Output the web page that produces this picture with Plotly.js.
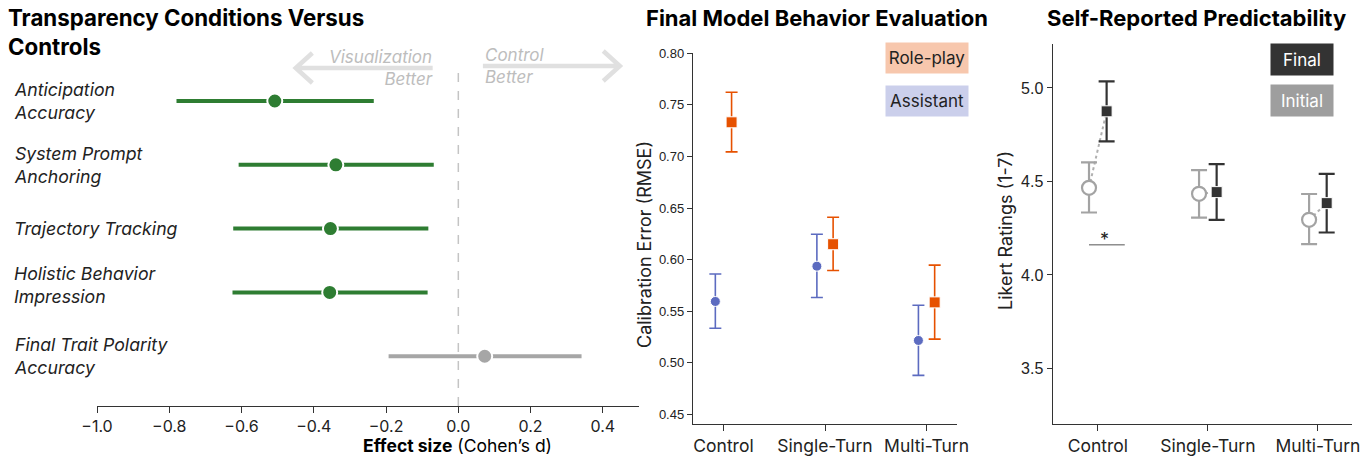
<!DOCTYPE html>
<html><head><meta charset="utf-8">
<script src="https://cdn.plot.ly/plotly-3.0.1.min.js"></script>
<style>html,body{margin:0;padding:0;background:#fff}</style>
</head><body><div id="chart" style="width:1366px;height:456px"></div>
<script>
// ---------- Panel 1: effect sizes ----------
const measures = ["Final Trait Polarity<br>Accuracy", "Holistic Behavior<br>Impression", "Trajectory Tracking", "System Prompt<br>Anchoring", "Anticipation<br>Accuracy"];
const effectD = [0.073, -0.356, -0.354, -0.339, -0.508];
const effectLo = [-0.193, -0.625, -0.623, -0.608, -0.780];
const effectHi = [0.341, -0.085, -0.083, -0.068, -0.234];
const effectSig = [false, true, true, true, true];

// ---------- Panel 2: calibration error ----------
const conditions = ["Control", "Single-Turn", "Multi-Turn"];
const assistantRMSE = [0.5594, 0.5936, 0.5216];
const assistantLo = [0.5335, 0.5633, 0.4877];
const assistantHi = [0.5861, 0.6246, 0.5558];
const roleplayRMSE = [0.7331, 0.6149, 0.5585];
const roleplayLo = [0.7044, 0.5894, 0.5229];
const roleplayHi = [0.7622, 0.6411, 0.5946];

// ---------- Panel 3: Likert ratings ----------
const initialRating = [4.466, 4.434, 4.295];
const initialLo = [4.334, 4.307, 4.165];
const initialHi = [4.602, 4.561, 4.433];
const finalRating = [4.875, 4.443, 4.384];
const finalLo = [4.714, 4.295, 4.227];
const finalHi = [5.035, 4.593, 4.541];

const GREEN = "#2e7d32", GREY = "#a6a6a6", ORANGE = "#e65100", BLUE = "#5c6bc0", DARK = "#333333", LIGHT = "#a3a3a3";
const FONT = "Inter, 'Liberation Sans', sans-serif";
const plus = (v, hi) => v.map((d, i) => hi[i] - d);
const minus = (v, lo) => v.map((d, i) => d - lo[i]);
const idx = conditions.map((_, i) => i);
const OFF = 0.08;

const traces = [];
// panel 1
const rowIdx = measures.map((_, i) => i);
[true, false].forEach(sig => {
  const sel = rowIdx.filter(i => effectSig[i] === sig);
  const col = sig ? GREEN : GREY;
  traces.push({
    type: "scatter", mode: "markers", xaxis: "x", yaxis: "y",
    x: sel.map(i => effectD[i]), y: sel,
    error_x: {type: "data", symmetric: false, array: sel.map(i => effectHi[i] - effectD[i]),
              arrayminus: sel.map(i => effectD[i] - effectLo[i]), color: col, thickness: 4, width: 0},
    marker: {color: col, size: 15, line: {color: "#fff", width: 2}},
    hoverinfo: "skip", showlegend: false
  });
});
// panel 2
traces.push({
  type: "scatter", mode: "markers", xaxis: "x2", yaxis: "y2",
  x: idx.map(i => i - OFF), y: assistantRMSE,
  error_y: {type: "data", symmetric: false, array: plus(assistantRMSE, assistantHi), arrayminus: minus(assistantRMSE, assistantLo), color: BLUE, thickness: 1.6, width: 6},
  marker: {color: BLUE, size: 10, symbol: "circle", line: {color: "#fff", width: 1}},
  name: "Assistant", showlegend: false
});
traces.push({
  type: "scatter", mode: "markers", xaxis: "x2", yaxis: "y2",
  x: idx.map(i => i + OFF), y: roleplayRMSE,
  error_y: {type: "data", symmetric: false, array: plus(roleplayRMSE, roleplayHi), arrayminus: minus(roleplayRMSE, roleplayLo), color: ORANGE, thickness: 1.6, width: 6},
  marker: {color: ORANGE, size: 11, symbol: "square", line: {color: "#fff", width: 1}},
  name: "Role-play", showlegend: false
});
// panel 3 connectors
idx.forEach(i => {
  traces.push({
    type: "scatter", mode: "lines", xaxis: "x3", yaxis: "y3",
    x: [i - OFF, i + OFF], y: [initialRating[i], finalRating[i]],
    line: {color: "#b0b0b0", width: 2, dash: "dot"}, hoverinfo: "skip", showlegend: false
  });
});
traces.push({
  type: "scatter", mode: "markers", xaxis: "x3", yaxis: "y3",
  x: idx.map(i => i - OFF), y: initialRating,
  error_y: {type: "data", symmetric: false, array: plus(initialRating, initialHi), arrayminus: minus(initialRating, initialLo), color: LIGHT, thickness: 2.2, width: 8},
  marker: {color: "#fff", size: 14, symbol: "circle", line: {color: LIGHT, width: 2.2}},
  name: "Initial", showlegend: false
});
traces.push({
  type: "scatter", mode: "markers", xaxis: "x3", yaxis: "y3",
  x: idx.map(i => i + OFF), y: finalRating,
  error_y: {type: "data", symmetric: false, array: plus(finalRating, finalHi), arrayminus: minus(finalRating, finalLo), color: DARK, thickness: 2.2, width: 8},
  marker: {color: DARK, size: 11, symbol: "square", line: {color: "#fff", width: 1}},
  name: "Final", showlegend: false
});

const H = 456, W = 1366;
const py = p => 1 - p / H, px = p => p / W;

const annotations = [];
// titles
annotations.push({xref: "paper", yref: "paper", x: px(6), y: py(2), xanchor: "left", yanchor: "top", align: "left", showarrow: false,
  text: "<b>Transparency Conditions Versus<br>Controls</b>", font: {family: FONT, size: 22.3, color: "#000"}});
annotations.push({xref: "paper", yref: "paper", x: px(817), y: py(18), xanchor: "center", yanchor: "middle", showarrow: false,
  text: "<b>Final Model Behavior Evaluation</b>", font: {family: FONT, size: 22, color: "#000"}});
annotations.push({xref: "paper", yref: "paper", x: px(1196), y: py(18), xanchor: "center", yanchor: "middle", showarrow: false,
  text: "<b>Self-Reported Predictability</b>", font: {family: FONT, size: 22, color: "#000"}});
// panel 1 row labels
measures.forEach((m, i) => annotations.push({xref: "paper", yref: "y", x: px(12), y: i, yshift: i === 1 ? 7 : 0, xanchor: "left", yanchor: "middle", align: "left",
  showarrow: false, text: "<i>" + m + "</i>", font: {family: FONT, size: 17.7, color: "#222"}}));
// arrow texts
annotations.push({xref: "paper", yref: "paper", x: px(435), y: py(68), xanchor: "right", yanchor: "middle", align: "right", showarrow: false,
  text: "<i>Visualization<br>Better</i>", font: {family: FONT, size: 17, color: "#bdbdbd"}});
annotations.push({xref: "paper", yref: "paper", x: px(483), y: py(66), xanchor: "left", yanchor: "middle", align: "left", showarrow: false,
  text: "<i>Control<br>Better</i>", font: {family: FONT, size: 17, color: "#bdbdbd"}});
// panel 1 x title
annotations.push({xref: "paper", yref: "paper", x: px(457), y: py(445), xanchor: "center", yanchor: "middle", showarrow: false,
  text: "<b>Effect size</b> (Cohen\u2019s d)", font: {family: FONT, size: 17.5, color: "#000"}});
// y titles
annotations.push({xref: "paper", yref: "paper", x: px(645), y: py(245), xanchor: "center", yanchor: "middle", textangle: -90, showarrow: false,
  text: "Calibration Error (RMSE)", font: {family: FONT, size: 18, color: "#222"}});
annotations.push({xref: "paper", yref: "paper", x: px(1006), y: py(231), xanchor: "center", yanchor: "middle", textangle: -90, showarrow: false,
  text: "Likert Ratings (1-7)", font: {family: FONT, size: 18, color: "#222"}});
// legends
const legBox = (label, cx, cy, w, h, bg, fc) => annotations.push({xref: "paper", yref: "paper", x: px(cx), y: py(cy), xanchor: "center", yanchor: "middle",
  showarrow: false, text: label, width: w, height: h, bgcolor: bg, font: {family: FONT, size: 17, color: fc}, borderpad: 0});
legBox("Role-play", 927, 58, 82, 30, "rgba(230,81,0,0.32)", "#222");
legBox("Assistant", 927, 101, 82, 30, "rgba(92,107,192,0.32)", "#222");
legBox("Final", 1301.5, 59.5, 62, 31, DARK, "#fff");
legBox("Initial", 1301.5, 100.5, 62, 31, "#9e9e9e", "#fff");
// significance star
annotations.push({xref: "x3", yref: "y3", x: 0.06, y: 4.19, xanchor: "center", yanchor: "middle", showarrow: false,
  text: "*", font: {family: FONT, size: 18, color: "#222"}});

const arrowC = "#e0e0e0";
const shapes = [
  {type: "line", xref: "x", yref: "y domain", x0: 0, x1: 0, y0: 0, y1: 1, line: {color: "#c4c4c4", width: 1.5, dash: "dash"}, layer: "below"},
  {type: "path", xref: "x", yref: "paper", path: `M -0.071,${py(68)} L -0.448,${py(68)} M -0.404,${py(53)} L -0.450,${py(68)} L -0.404,${py(83)}`, line: {color: arrowC, width: 4.5}},
  {type: "path", xref: "x", yref: "paper", path: `M 0.068,${py(66)} L 0.445,${py(66)} M 0.401,${py(51)} L 0.447,${py(66)} L 0.401,${py(81)}`, line: {color: arrowC, width: 4.5}},
  {type: "line", xref: "x3", yref: "y3", x0: -0.08, x1: 0.245, y0: 4.161, y1: 4.161, line: {color: "#555", width: 1}}
];

const tickNum = {family: "'Liberation Sans', Arial, sans-serif", color: "#222"};
const layout = {
  width: W, height: H, margin: {l: 0, r: 0, t: 0, b: 0}, paper_bgcolor: "#fff", plot_bgcolor: "rgba(0,0,0,0)",
  showlegend: false,
  xaxis: {domain: [px(97), px(639)], range: [-1, 0.5], tick0: -1, dtick: 0.2, tickformat: ".1f",
    showline: true, linecolor: "#333", linewidth: 1.2, ticks: "outside", ticklen: 6, tickcolor: "#333",
    showgrid: false, zeroline: false, tickfont: {family: FONT, size: 16, color: "#222"}, anchor: "y"},
  yaxis: {domain: [py(406), py(70.7)], range: [-0.78, 4.475], visible: false, anchor: "x"},
  xaxis2: {domain: [px(693), px(957)], range: [-0.3, 2.3], tickvals: idx, ticktext: conditions,
    showline: true, linecolor: "#333", linewidth: 1.2, ticks: "outside", ticklen: 6, tickcolor: "#333",
    showgrid: false, zeroline: false, tickfont: {family: FONT, size: 17.5, color: "#222"}, anchor: "y2"},
  yaxis2: {domain: [py(424), py(53.3)], range: [0.4406, 0.80], dtick: 0.05, tick0: 0.45, tickformat: ".2f",
    showline: true, linecolor: "#333", linewidth: 1.2, ticks: "outside", ticklen: 5, tickcolor: "#333",
    showgrid: false, zeroline: false, tickfont: Object.assign({size: 13}, tickNum), anchor: "x2"},
  xaxis3: {domain: [px(1052.7), px(1352)], range: [-0.41, 2.31], tickvals: idx, ticktext: conditions,
    showline: true, linecolor: "#333", linewidth: 1.2, ticks: "outside", ticklen: 6, tickcolor: "#333",
    showgrid: false, zeroline: false, tickfont: {family: FONT, size: 17.5, color: "#222"}, anchor: "y3"},
  yaxis3: {domain: [py(424), py(44)], range: [3.203, 5.235], tickvals: [3.5, 4.0, 4.5, 5.0], tickformat: ".1f",
    showline: true, linecolor: "#333", linewidth: 1.2, ticks: "outside", ticklen: 5, tickcolor: "#333",
    showgrid: false, zeroline: false, tickfont: Object.assign({size: 16}, tickNum), anchor: "x3"},
  annotations, shapes
};
Plotly.newPlot("chart", traces, layout, {staticPlot: true, displayModeBar: false});
</script></body></html>
